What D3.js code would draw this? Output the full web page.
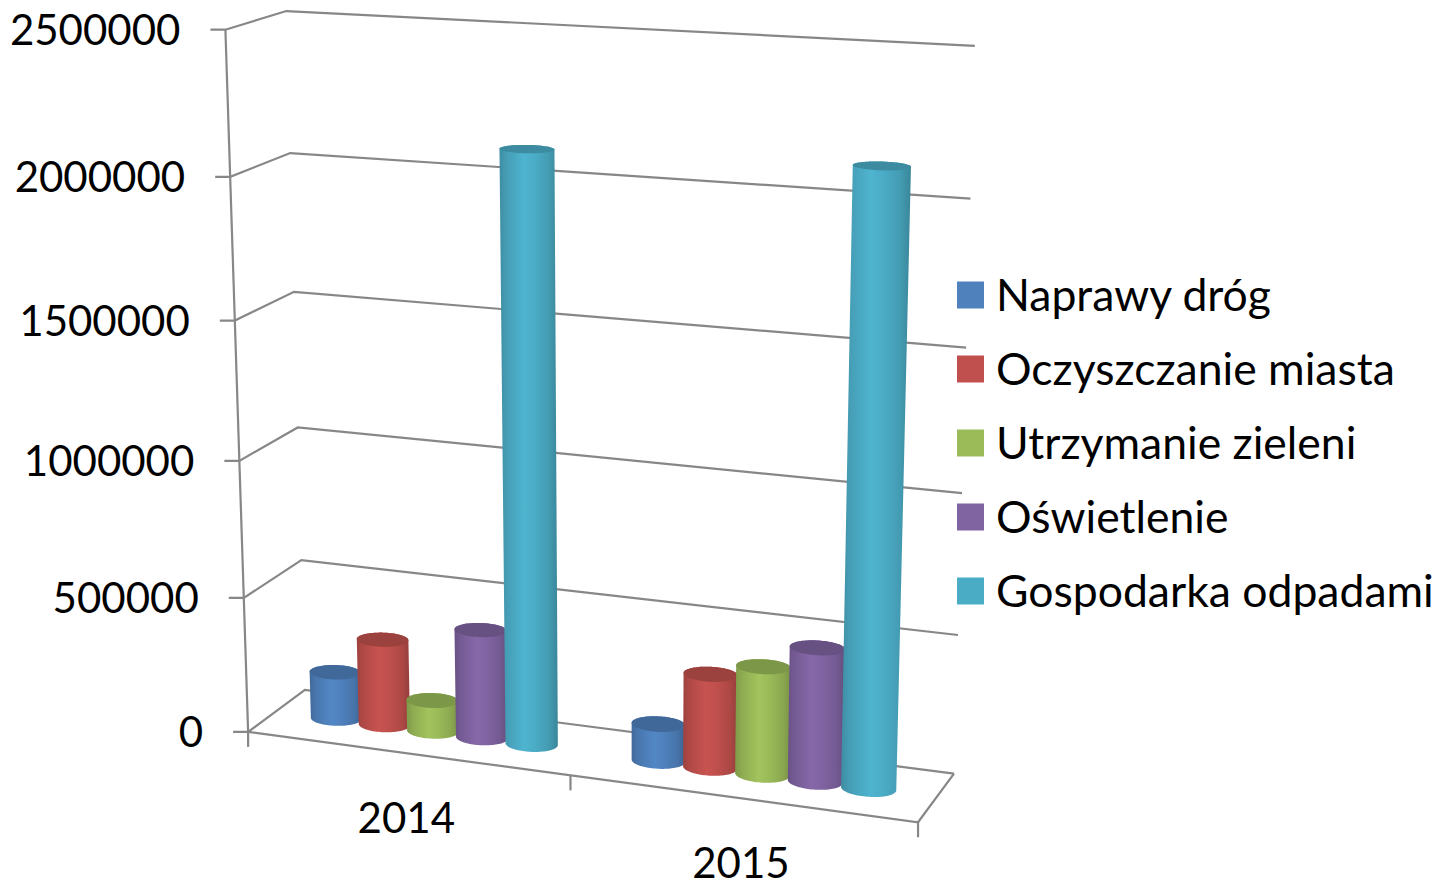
<!DOCTYPE html>
<html>
<head>
<meta charset="utf-8">
<script src="https://cdnjs.cloudflare.com/ajax/libs/d3/7.8.5/d3.min.js"></script>
<style>
  body { margin: 0; background: #fff; }
  text { font-family: Lato, 'Open Sans', sans-serif; fill: #000; }
</style>
</head>
<body>
<div id="chart"></div>
<script>
var categories = ['2014', '2015'];
var seriesNames = ['Naprawy dróg', 'Oczyszczanie miasta', 'Utrzymanie zieleni', 'Oświetlenie', 'Gospodarka odpadami'];
var colors = ['#4F81BD', '#C0504D', '#9BBB59', '#8064A2', '#4BACC6'];

var naprawyDrog = [175000, 135000];
var oczyszczanie = [320000, 340000];
var zielen = [115000, 390000];
var oswietlenie = [400000, 480000];
var odpady = [2115000, 2135000];
var seriesValues = [naprawyDrog, oczyszczanie, zielen, oswietlenie, odpady];

var tickValues = [0, 500000, 1000000, 1500000, 2000000, 2500000];

var width = 1441, height = 885;
var fontSize = 42, legendFontSize = 44.5;

//--- PLOT BOX CORNERS (u across, y 0..1 of value axis, z depth) -> screen
var frame = [
  [[0, 0, 0], [248, 732]],
  [[0, 1, 0], [225, 30]],
  [[0, 0, 1], [305, 690]],
  [[0, 1, 1], [287, 11]],
  [[1, 0, 1], [953, 773]],
  [[1, 1, 1], [975, 46]],
  [[1, 0, 0], [918, 822]],
  [[0, 0.8, 0], [230, 177]],
  [[0, 0.8, 1], [290, 153]],
  [[1, 0.8, 1], [970, 198]],
  [[0, 0.2, 0], [244, 597]],
  [[0, 0.2, 1], [301, 560]],
  [[1, 0.2, 1], [959, 636]],
  [[0.5, 0, 0], [571, 776]]
];

var project = fitProjection(frame);

var yScale = d3.scaleLinear().domain([0, 2500000]).range([0, 1]);
var xCat = d3.scaleBand().domain(categories).range([0, 1]);
var xSer = d3.scaleBand().domain(seriesNames).range([0, xCat.bandwidth()]).paddingOuter(0.75);

var zMid = 0.5, rz = 0.16;

function pt(u, v, z) {
  return project(u, yScale(v), z);
}

//--- CREATE SVG
var svg = d3.select('#chart')
  .append('svg')
  .attr('width', width)
  .attr('height', height);

var defs = svg.append('defs');
var line = d3.line();
var gridColor = '#878787';

//--- GRID LINES + LEFT WALL
var grid = svg.append('g')
  .attr('fill', 'none')
  .attr('stroke', gridColor)
  .attr('stroke-width', 2.2);

tickValues.forEach(function(t) {
  var f = pt(0, t, 0), b = pt(0, t, 1), r = pt(1, t, 1);
  grid.append('path').attr('d', line([[f[0] - 15, f[1]], f, b, r]));
});

//--- VALUE AXIS
var top0 = pt(0, 2500000, 0), bot0 = pt(0, 0, 0);
grid.append('path').attr('d', line([top0, bot0]));

//--- FLOOR EDGES
grid.append('path').attr('d', line([pt(0, 0, 0), pt(1, 0, 0), pt(1, 0, 1)]));

//--- CATEGORY TICKS
[0, 0.5, 1].forEach(function(u) {
  var p = pt(u, 0, 0);
  grid.append('path').attr('d', line([p, [p[0], p[1] + 15]]));
});

//--- VALUE LABELS
svg.append('g')
  .selectAll('text')
  .data(tickValues)
  .join('text')
  .attr('x', function(d) { return pt(0, d, 0)[0] - 45; })
  .attr('y', function(d) { return pt(0, d, 0)[1]; })
  .attr('dy', '0.36em')
  .attr('text-anchor', 'end')
  .style('font-size', fontSize + 'px')
  .text(function(d) { return d; });

//--- CATEGORY LABELS
svg.append('g')
  .selectAll('text')
  .data(categories)
  .join('text')
  .attr('x', function(d) { return pt(xCat(d) + xCat.bandwidth() / 2, 0, 0)[0]; })
  .attr('y', function(d) { return pt(xCat(d) + xCat.bandwidth() / 2, 0, 0)[1] + 65; })
  .attr('dy', '0.36em')
  .attr('text-anchor', 'middle')
  .style('font-size', fontSize + 'px')
  .text(function(d) { return d; });

//--- CYLINDERS
var bars = svg.append('g');
categories.forEach(function(cat, i) {
  seriesNames.forEach(function(name, j) {
    var value = seriesValues[j][i];
    var rx = xSer.bandwidth() / 2;
    var uc = xCat(cat) + xSer(name) + rx;
    var bottom = [], topRing = [];
    for (var k = 0; k < 90; k++) {
      var a = k / 90 * Math.PI * 2;
      var u = uc + rx * Math.cos(a), z = zMid + rz * Math.sin(a);
      bottom.push(pt(u, 0, z));
      topRing.push(pt(u, value, z));
    }
    var hull = d3.polygonHull(bottom.concat(topRing));
    var xs = hull.map(function(p) { return p[0]; });
    var base = d3.color(colors[j]);
    var id = 'cyl' + i + '_' + j;
    var grad = defs.append('linearGradient')
      .attr('id', id)
      .attr('gradientUnits', 'userSpaceOnUse')
      .attr('x1', d3.min(xs)).attr('x2', d3.max(xs))
      .attr('y1', 0).attr('y2', 0);
    [[0, base.darker(0.55)], [0.12, base.darker(0.25)], [0.42, base.brighter(0.12)],
     [0.6, base], [0.85, base.darker(0.3)], [1, base.darker(0.7)]].forEach(function(s) {
      grad.append('stop').attr('offset', s[0]).attr('stop-color', s[1]);
    });
    bars.append('path')
      .attr('d', line(hull) + 'Z')
      .attr('fill', 'url(#' + id + ')');
    bars.append('path')
      .attr('d', line(topRing) + 'Z')
      .attr('fill', base.darker(0.6));
  });
});

//--- LEGEND
var legend = svg.append('g')
  .selectAll('g')
  .data(seriesNames)
  .join('g')
  .attr('transform', function(d, i) { return 'translate(957,' + (295 + i * 74) + ')'; });

legend.append('rect')
  .attr('x', 0).attr('y', -13.5)
  .attr('width', 27).attr('height', 27)
  .attr('fill', function(d, i) { return colors[i]; });

legend.append('text')
  .attr('x', 39)
  .attr('dy', '0.36em')
  .style('font-size', legendFontSize + 'px')
  .text(function(d) { return d; });

//--- PROJECTION FIT (DLT, least squares)
function fitProjection(pts) {
  var A = [], b = [];
  pts.forEach(function(p) {
    var X = p[0][0], Y = p[0][1], Z = p[0][2];
    var x = p[1][0] / 1000, y = p[1][1] / 1000;
    A.push([X, Y, Z, 1, 0, 0, 0, 0, -x * X, -x * Y, -x * Z]); b.push(x);
    A.push([0, 0, 0, 0, X, Y, Z, 1, -y * X, -y * Y, -y * Z]); b.push(y);
  });
  var n = 11, M = [];
  for (var i = 0; i < n; i++) {
    M[i] = [];
    for (var j = 0; j <= n; j++) {
      var s = 0;
      for (var k = 0; k < A.length; k++) s += A[k][i] * (j < n ? A[k][j] : b[k]);
      M[i][j] = s;
    }
  }
  for (var c = 0; c < n; c++) {
    var piv = c;
    for (var r = c + 1; r < n; r++) if (Math.abs(M[r][c]) > Math.abs(M[piv][c])) piv = r;
    var tmp = M[c]; M[c] = M[piv]; M[piv] = tmp;
    for (var r2 = 0; r2 < n; r2++) {
      if (r2 === c) continue;
      var f = M[r2][c] / M[c][c];
      for (var j2 = c; j2 <= n; j2++) M[r2][j2] -= f * M[c][j2];
    }
  }
  var h = M.map(function(row, i) { return row[n] / row[i]; });
  return function(X, Y, Z) {
    var w = h[8] * X + h[9] * Y + h[10] * Z + 1;
    return [1000 * (h[0] * X + h[1] * Y + h[2] * Z + h[3]) / w,
            1000 * (h[4] * X + h[5] * Y + h[6] * Z + h[7]) / w];
  };
}
</script>
</body>
</html>
